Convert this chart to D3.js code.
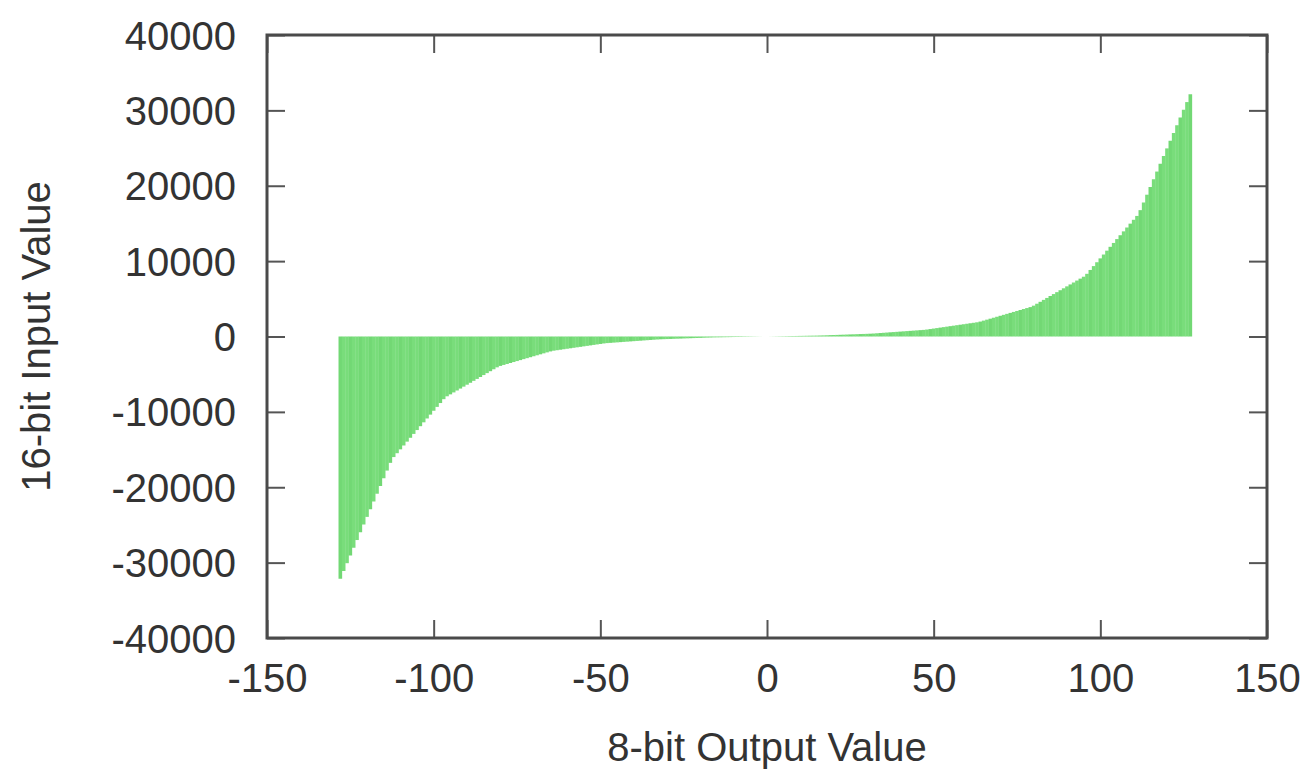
<!DOCTYPE html>
<html>
<head>
<meta charset="utf-8">
<title>8-bit Output vs 16-bit Input</title>
<script src="https://cdn.jsdelivr.net/npm/d3@7"></script>
<style>
  html, body { margin: 0; padding: 0; background: #ffffff; }
  svg { display: block; }
  text { font-family: "Liberation Sans", Arial, Helvetica, sans-serif; fill: #333333; }
</style>
</head>
<body>
<svg id="chart" width="1315" height="771"></svg>
<script>
// Decoded 16-bit input value for each 8-bit output code.
// Negative codes, from -128 up to -1.
const negativeValues = [
  -32124, -31100, -30076, -29052, -28028, -27004, -25980, -24956,
  -23932, -22908, -21884, -20860, -19836, -18812, -17788, -16764,
  -15996, -15484, -14972, -14460, -13948, -13436, -12924, -12412,
  -11900, -11388, -10876, -10364, -9852, -9340, -8828, -8316,
  -7932, -7676, -7420, -7164, -6908, -6652, -6396, -6140,
  -5884, -5628, -5372, -5116, -4860, -4604, -4348, -4092,
  -3900, -3772, -3644, -3516, -3388, -3260, -3132, -3004,
  -2876, -2748, -2620, -2492, -2364, -2236, -2108, -1980,
  -1884, -1820, -1756, -1692, -1628, -1564, -1500, -1436,
  -1372, -1308, -1244, -1180, -1116, -1052, -988, -924,
  -876, -844, -812, -780, -748, -716, -684, -652,
  -620, -588, -556, -524, -492, -460, -428, -396,
  -372, -356, -340, -324, -308, -292, -276, -260,
  -244, -228, -212, -196, -180, -164, -148, -132,
  -120, -112, -104, -96, -88, -80, -72, -64,
  -56, -48, -40, -32, -24, -16, -8, 0
];

// Non-negative codes, from 0 up to 127.
const positiveValues = [
  0, 8, 16, 24, 32, 40, 48, 56,
  64, 72, 80, 88, 96, 104, 112, 120,
  132, 148, 164, 180, 196, 212, 228, 244,
  260, 276, 292, 308, 324, 340, 356, 372,
  396, 428, 460, 492, 524, 556, 588, 620,
  652, 684, 716, 748, 780, 812, 844, 876,
  924, 988, 1052, 1116, 1180, 1244, 1308, 1372,
  1436, 1500, 1564, 1628, 1692, 1756, 1820, 1884,
  1980, 2108, 2236, 2364, 2492, 2620, 2748, 2876,
  3004, 3132, 3260, 3388, 3516, 3644, 3772, 3900,
  4092, 4348, 4604, 4860, 5116, 5372, 5628, 5884,
  6140, 6396, 6652, 6908, 7164, 7420, 7676, 7932,
  8316, 8828, 9340, 9852, 10364, 10876, 11388, 11900,
  12412, 12924, 13436, 13948, 14460, 14972, 15484, 15996,
  16764, 17788, 18812, 19836, 20860, 21884, 22908, 23932,
  24956, 25980, 27004, 28028, 29052, 30076, 31100, 32124
];

const xTicks = [-150, -100, -50, 0, 50, 100, 150];
const yTicks = [-40000, -30000, -20000, -10000, 0, 10000, 20000, 30000, 40000];

const xTitle = "8-bit Output Value";
const yTitle = "16-bit Input Value";

// Pair each value with its signed 8-bit code.
const points = negativeValues.map((v, i) => ({ code: -128 + i, value: v }))
  .concat(positiveValues.map((v, i) => ({ code: i, value: v })));

const svg = d3.select("#chart");
const frame = { left: 267, right: 1267, top: 35, bottom: 638 };

const x = d3.scaleLinear().domain([-150, 150]).range([frame.left, frame.right]);
const y = d3.scaleLinear().domain([-40000, 40000]).range([frame.bottom, frame.top]);

const fmt = d => String(d); // plain hyphen-minus, as gnuplot prints
const tickLen = 18;
const fontSize = 40;

// Impulses: one vertical stroke per code from zero to its value.
const step = x(1) - x(0);
svg.append("g")
  .selectAll("line")
  .data(points)
  .join("line")
  .attr("x1", d => x(d.code))
  .attr("x2", d => x(d.code))
  .attr("y1", y(0))
  .attr("y2", d => y(d.value))
  .attr("stroke", (d, i) => (i % 3 === 0 ? "#72d874" : "#79dd7b"))
  .attr("stroke-width", step + 0.3);

// Axes with inward ticks on all four sides.
function styleAxis(g) {
  g.select(".domain").remove();
  g.selectAll(".tick line").attr("stroke", "#555555").attr("stroke-width", 2);
  g.selectAll(".tick text")
    .attr("font-size", fontSize)
    .attr("fill", "#333333")
    .style("font-family", "'Liberation Sans', Arial, sans-serif");
}

svg.append("g")
  .attr("transform", `translate(${frame.left},0)`)
  .call(d3.axisLeft(y).tickValues(yTicks).tickFormat(fmt).tickSizeInner(-tickLen).tickSizeOuter(0).tickPadding(31))
  .call(styleAxis)
  .call(g => g.selectAll(".tick text").attr("dy", "0.35em"));

svg.append("g")
  .attr("transform", `translate(${frame.right},0)`)
  .call(d3.axisRight(y).tickValues(yTicks).tickFormat("").tickSizeInner(-tickLen).tickSizeOuter(0))
  .call(styleAxis);

svg.append("g")
  .attr("transform", `translate(0,${frame.bottom})`)
  .call(d3.axisBottom(x).tickValues(xTicks).tickFormat(fmt).tickSizeInner(-tickLen).tickSizeOuter(0).tickPadding(26))
  .call(styleAxis);

svg.append("g")
  .attr("transform", `translate(0,${frame.top})`)
  .call(d3.axisTop(x).tickValues(xTicks).tickFormat("").tickSizeInner(-tickLen).tickSizeOuter(0))
  .call(styleAxis);

// Plot border.
svg.append("rect")
  .attr("x", frame.left)
  .attr("y", frame.top)
  .attr("width", frame.right - frame.left)
  .attr("height", frame.bottom - frame.top)
  .attr("fill", "none")
  .attr("stroke", "#4a4a4a")
  .attr("stroke-width", 3);

// Axis titles.
svg.append("text")
  .attr("x", (frame.left + frame.right) / 2)
  .attr("y", 761)
  .attr("text-anchor", "middle")
  .attr("font-size", fontSize)
  .text(xTitle);

svg.append("text")
  .attr("transform", `translate(50,${(frame.top + frame.bottom) / 2}) rotate(-90)`)
  .attr("text-anchor", "middle")
  .attr("font-size", fontSize)
  .text(yTitle);
</script>
</body>
</html>
